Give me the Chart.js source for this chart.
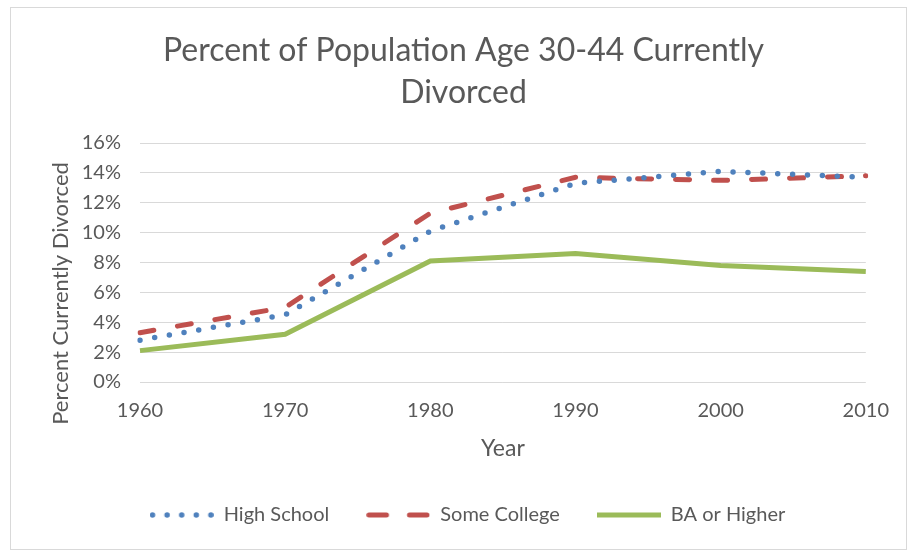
<!DOCTYPE html>
<html>
<head>
<meta charset="utf-8">
<script src="https://cdn.jsdelivr.net/npm/chart.js@4.4.7/dist/chart.umd.min.js"></script>
<style>
  html, body { margin: 0; padding: 0; background: #fff; }
  #frame {
    position: absolute; left: 10px; top: 7px;
    width: 895px; height: 541px;
    border: 1px solid #d9d9d9;
  }
</style>
</head>
<body>
<div id="frame"><canvas id="chart" width="895" height="541"></canvas></div>
<script>
// ===== データ =====
const years = ['1960', '1970', '1980', '1990', '2000', '2010'];
const highSchool = [2.8, 4.5, 10.1, 13.3, 14.1, 13.7];
const someCollege = [3.3, 5.0, 11.3, 13.7, 13.5, 13.8];
const baOrHigher = [2.1, 3.2, 8.1, 8.6, 7.8, 7.4];
const yTicks = [0, 2, 4, 6, 8, 10, 12, 14, 16];

const FONT = 'Lato';
const GRAY = '#595959';
const BLUE = '#4F81BD';
const RED = '#C0504D';
const GREEN = '#9BBB59';

// ===== 凡例用の線サンプル =====
function legendSample(color, width, dash) {
  const c = document.createElement('canvas');
  c.width = 64;
  c.height = 8;
  const ctx = c.getContext('2d');
  ctx.strokeStyle = color;
  ctx.lineWidth = width;
  ctx.lineCap = dash.length ? 'round' : 'butt';
  ctx.setLineDash(dash);
  ctx.beginPath();
  ctx.moveTo(dash.length ? 2.75 : 0, 4);
  ctx.lineTo(dash.length ? 61.25 : 64, 4);
  ctx.stroke();
  return c;
}

// タイトルと凡例を Excel と同じように少し右へ寄せる
const shiftBlocks = {
  id: 'shiftBlocks',
  afterLayout(chart) {
    chart.titleBlock.left += 25;
    chart.titleBlock.right += 25;
    chart.legend.left += 29;
    chart.legend.right += 29;
  }
};

// ===== チャート =====
new Chart(document.getElementById('chart'), {
  type: 'line',
  data: {
    labels: years,
    datasets: [
      {
        label: 'High School',
        data: highSchool,
        borderColor: BLUE,
        backgroundColor: BLUE,
        borderWidth: 5.5,
        borderDash: [0, 14.9],
        borderCapStyle: 'round',
        pointRadius: 0,
        pointStyle: legendSample(BLUE, 5.5, [0, 14.6]),
        tension: 0
      },
      {
        label: 'Some College',
        data: someCollege,
        borderColor: RED,
        backgroundColor: RED,
        borderWidth: 5,
        borderDash: [14, 24],
        borderCapStyle: 'round',
        pointRadius: 0,
        pointStyle: legendSample(RED, 5, [17.5, 23]),
        tension: 0
      },
      {
        label: 'BA or Higher',
        data: baOrHigher,
        borderColor: GREEN,
        backgroundColor: GREEN,
        borderWidth: 5,
        pointRadius: 0,
        pointStyle: legendSample(GREEN, 5, []),
        tension: 0
      }
    ]
  },
  plugins: [shiftBlocks],
  options: {
    responsive: false,
    animation: false,
    layout: { padding: { left: 0, right: 40, top: 0, bottom: 14 } },
    plugins: {
      title: {
        display: true,
        text: ['Percent of Population Age 30-44 Currently', 'Divorced'],
        color: GRAY,
        font: { family: FONT, size: 32, weight: 'normal', lineHeight: 1.3125 },
        padding: { top: 22, bottom: 29 }
      },
      legend: {
        position: 'bottom',
        labels: {
          color: GRAY,
          font: { family: FONT, size: 20 },
          usePointStyle: true,
          pointStyleWidth: 64,
          padding: 37
        }
      },
      tooltip: { enabled: false }
    },
    scales: {
      x: {
        type: 'category',
        offset: false,
        grid: { display: false, drawTicks: false },
        border: { display: false },
        ticks: { color: GRAY, font: { family: FONT, size: 20 }, padding: 17, maxRotation: 0 },
        title: {
          display: true,
          text: 'Year',
          color: GRAY,
          font: { family: FONT, size: 23 },
          padding: 6
        },
        afterFit: scale => { scale.height = 86; }
      },
      y: {
        min: 0,
        max: 16,
        afterBuildTicks: scale => { scale.ticks = yTicks.map(v => ({ value: v })); },
        grid: { color: '#d9d9d9', lineWidth: 1, drawTicks: false },
        border: { display: false },
        ticks: {
          color: GRAY,
          font: { family: FONT, size: 20 },
          padding: 19,
          callback: v => v + '%'
        },
        title: {
          display: true,
          // 末尾の空白で文字列を下へずらす
          text: 'Percent Currently Divorced           ',
          color: GRAY,
          font: { family: FONT, size: 22 },
          padding: 37
        },
        afterFit: scale => { scale.width = 129; }
      }
    }
  }
});
</script>
</body>
</html>
